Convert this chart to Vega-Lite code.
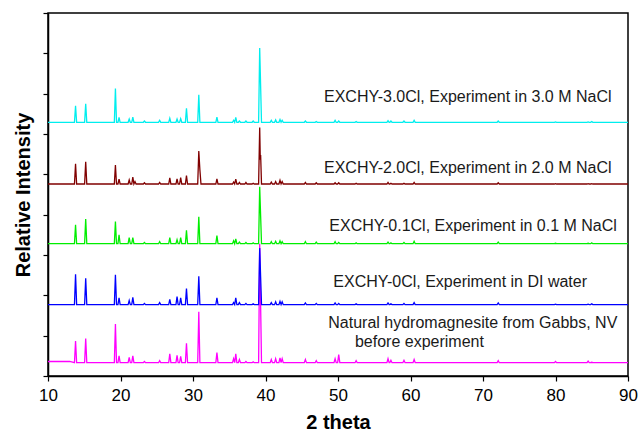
{
  "$schema": "https://vega.github.io/schema/vega-lite/v6.json",
  "width": 580,
  "height": 363,
  "autosize": "none",
  "padding": {"left": 48, "top": 13, "right": 11, "bottom": 57},
  "config": {
    "view": {"stroke": "#000000", "strokeWidth": 1.5},
    "font": "Liberation Sans",
    "axis": {
      "grid": false,
      "domainColor": "#000000",
      "domainWidth": 1.5,
      "tickColor": "#000000",
      "tickWidth": 1.2,
      "tickSize": 5,
      "labelColor": "#000000",
      "labelFont": "Liberation Sans",
      "labelFontSize": 17,
      "titleColor": "#000000",
      "titleFont": "Liberation Sans",
      "titleFontSize": 20,
      "titleFontWeight": "bold"
    }
  },
  "layer": [
    {
      "data": {
        "values": [
          {"x":10,"m":0.36,"b":1.77,"g":3.28,"r":4.76,"c":6.29},
          {"x":13.0,"m":0.36,"b":1.77,"g":3.28,"r":4.76,"c":6.29},
          {"x":13.65,"m":0.33,"b":1.77,"g":3.28,"r":4.76,"c":6.29},
          {"x":13.8,"m":0.87,"b":2.52,"g":3.75,"r":5.26,"c":6.70},
          {"x":13.95,"m":0.33,"b":1.77,"g":3.28,"r":4.76,"c":6.29},
          {"x":15.05,"m":0.33,"b":1.77,"g":3.28,"r":4.76,"c":6.29},
          {"x":15.2,"m":0.93,"b":2.42,"g":3.89,"r":5.31,"c":6.75},
          {"x":15.35,"m":0.33,"b":1.77,"g":3.28,"r":4.76,"c":6.29},
          {"x":19.15,"m":0.33,"b":1.77,"g":3.28,"r":4.76,"c":6.29},
          {"x":19.3,"m":1.29,"b":2.51,"g":3.83,"r":5.23,"c":7.13},
          {"x":19.45,"m":0.33,"b":1.77,"g":3.28,"r":4.76,"c":6.29},
          {"x":19.65,"m":0.33,"b":1.77,"g":3.28,"r":4.76,"c":6.29},
          {"x":19.8,"m":0.50,"b":1.94,"g":3.50,"r":4.88,"c":6.41},
          {"x":19.95,"m":0.33,"b":1.77,"g":3.28,"r":4.76,"c":6.29},
          {"x":21.05,"m":0.33,"b":1.77,"g":3.28,"r":4.76,"c":6.29},
          {"x":21.2,"m":0.46,"b":1.87,"g":3.43,"r":4.86,"c":6.37},
          {"x":21.35,"m":0.33,"b":1.77,"g":3.28,"r":4.76,"c":6.29},
          {"x":21.55,"m":0.33,"b":1.77,"g":3.28,"r":4.76,"c":6.29},
          {"x":21.7,"m":0.50,"b":1.95,"g":3.43,"r":4.93,"c":6.42},
          {"x":21.85,"m":0.33,"b":1.77,"g":3.28,"r":4.76,"c":6.29},
          {"x":22.0,"m":0.33,"b":1.77,"g":3.28,"r":4.82,"c":6.29},
          {"x":22.15,"m":0.33,"b":1.77,"g":3.28,"r":4.76,"c":6.29},
          {"x":23.15,"m":0.33,"b":1.77,"g":3.28,"r":4.76,"c":6.29},
          {"x":23.3,"m":0.36,"b":1.80,"g":3.31,"r":4.79,"c":6.32},
          {"x":23.45,"m":0.33,"b":1.77,"g":3.28,"r":4.76,"c":6.29},
          {"x":25.25,"m":0.33,"b":1.77,"g":3.28,"r":4.76,"c":6.29},
          {"x":25.4,"m":0.38,"b":1.82,"g":3.33,"r":4.80,"c":6.34},
          {"x":25.55,"m":0.33,"b":1.77,"g":3.28,"r":4.76,"c":6.29},
          {"x":26.65,"m":0.33,"b":1.77,"g":3.28,"r":4.76,"c":6.29},
          {"x":26.8,"m":0.55,"b":1.90,"g":3.43,"r":4.91,"c":6.39},
          {"x":26.95,"m":0.33,"b":1.77,"g":3.28,"r":4.76,"c":6.29},
          {"x":27.65,"m":0.33,"b":1.77,"g":3.28,"r":4.76,"c":6.29},
          {"x":27.8,"m":0.51,"b":1.97,"g":3.38,"r":4.89,"c":6.37},
          {"x":27.95,"m":0.33,"b":1.77,"g":3.28,"r":4.76,"c":6.29},
          {"x":28.15,"m":0.33,"b":1.77,"g":3.28,"r":4.76,"c":6.29},
          {"x":28.3,"m":0.49,"b":1.94,"g":3.43,"r":4.92,"c":6.38},
          {"x":28.45,"m":0.33,"b":1.77,"g":3.28,"r":4.76,"c":6.29},
          {"x":28.95,"m":0.33,"b":1.77,"g":3.28,"r":4.76,"c":6.29},
          {"x":29.1,"m":0.81,"b":2.17,"g":3.61,"r":4.97,"c":6.64},
          {"x":29.25,"m":0.33,"b":1.77,"g":3.28,"r":4.76,"c":6.29},
          {"x":30.65,"m":0.33,"b":1.77,"g":3.28,"r":4.76,"c":6.29},
          {"x":30.8,"m":1.59,"b":2.47,"g":3.95,"r":5.58,"c":6.97},
          {"x":30.95,"m":0.33,"b":1.77,"g":3.28,"r":5.11,"c":6.29},
          {"x":31.1,"m":0.33,"b":1.77,"g":3.28,"r":4.76,"c":6.29},
          {"x":33.15,"m":0.33,"b":1.77,"g":3.28,"r":4.76,"c":6.29},
          {"x":33.3,"m":0.58,"b":1.94,"g":3.48,"r":4.89,"c":6.42},
          {"x":33.45,"m":0.33,"b":1.77,"g":3.28,"r":4.76,"c":6.29},
          {"x":35.45,"m":0.33,"b":1.77,"g":3.28,"r":4.76,"c":6.29},
          {"x":35.6,"m":0.43,"b":1.82,"g":3.35,"r":4.81,"c":6.34},
          {"x":35.75,"m":0.33,"b":1.77,"g":3.28,"r":4.76,"c":6.29},
          {"x":35.9,"m":0.55,"b":1.94,"g":3.40,"r":4.88,"c":6.41},
          {"x":36.05,"m":0.33,"b":1.77,"g":3.28,"r":4.76,"c":6.29},
          {"x":36.25,"m":0.33,"b":1.77,"g":3.28,"r":4.76,"c":6.29},
          {"x":36.4,"m":0.41,"b":1.82,"g":3.32,"r":4.80,"c":6.32},
          {"x":36.55,"m":0.33,"b":1.77,"g":3.28,"r":4.76,"c":6.29},
          {"x":37.15,"m":0.33,"b":1.77,"g":3.28,"r":4.76,"c":6.29},
          {"x":37.3,"m":0.36,"b":1.80,"g":3.31,"r":4.80,"c":6.32},
          {"x":37.45,"m":0.33,"b":1.77,"g":3.28,"r":4.76,"c":6.29},
          {"x":38.15,"m":0.33,"b":1.77,"g":3.28,"r":4.76,"c":6.29},
          {"x":38.3,"m":0.35,"b":1.79,"g":3.30,"r":4.78,"c":6.32},
          {"x":38.45,"m":0.33,"b":1.77,"g":3.28,"r":4.76,"c":6.29},
          {"x":39.05,"m":0.33,"b":1.77,"g":3.28,"r":4.76,"c":6.29},
          {"x":39.2,"m":3.28,"b":3.17,"g":4.69,"r":6.16,"c":8.13},
          {"x":39.28,"m":2.33,"b":2.72,"g":4.24,"r":5.36,"c":7.54},
          {"x":39.33,"m":1.73,"b":2.44,"g":3.96,"r":5.48,"c":7.17},
          {"x":39.45,"m":0.33,"b":1.77,"g":3.28,"r":4.76,"c":6.29},
          {"x":40.65,"m":0.33,"b":1.77,"g":3.28,"r":4.76,"c":6.29},
          {"x":40.8,"m":0.41,"b":1.82,"g":3.33,"r":4.81,"c":6.34},
          {"x":40.95,"m":0.33,"b":1.77,"g":3.28,"r":4.76,"c":6.29},
          {"x":41.25,"m":0.33,"b":1.77,"g":3.28,"r":4.76,"c":6.29},
          {"x":41.4,"m":0.43,"b":1.84,"g":3.34,"r":4.82,"c":6.35},
          {"x":41.55,"m":0.33,"b":1.77,"g":3.28,"r":4.76,"c":6.29},
          {"x":41.85,"m":0.33,"b":1.77,"g":3.28,"r":4.76,"c":6.29},
          {"x":42.0,"m":0.45,"b":1.85,"g":3.35,"r":4.85,"c":6.36},
          {"x":42.15,"m":0.33,"b":1.77,"g":3.28,"r":4.76,"c":6.29},
          {"x":42.3,"m":0.43,"b":1.84,"g":3.33,"r":4.82,"c":6.34},
          {"x":42.45,"m":0.33,"b":1.77,"g":3.28,"r":4.76,"c":6.29},
          {"x":45.35,"m":0.33,"b":1.77,"g":3.28,"r":4.76,"c":6.29},
          {"x":45.5,"m":0.41,"b":1.81,"g":3.33,"r":4.80,"c":6.32},
          {"x":45.65,"m":0.33,"b":1.77,"g":3.28,"r":4.76,"c":6.29},
          {"x":46.85,"m":0.33,"b":1.77,"g":3.28,"r":4.76,"c":6.29},
          {"x":47.0,"m":0.38,"b":1.80,"g":3.32,"r":4.79,"c":6.31},
          {"x":47.15,"m":0.33,"b":1.77,"g":3.28,"r":4.76,"c":6.29},
          {"x":49.45,"m":0.33,"b":1.77,"g":3.28,"r":4.76,"c":6.29},
          {"x":49.6,"m":0.43,"b":1.81,"g":3.33,"r":4.79,"c":6.34},
          {"x":49.75,"m":0.33,"b":1.77,"g":3.28,"r":4.76,"c":6.29},
          {"x":49.95,"m":0.33,"b":1.77,"g":3.28,"r":4.76,"c":6.29},
          {"x":50.1,"m":0.53,"b":1.80,"g":3.31,"r":4.79,"c":6.32},
          {"x":50.25,"m":0.33,"b":1.77,"g":3.28,"r":4.76,"c":6.29},
          {"x":52.35,"m":0.33,"b":1.77,"g":3.28,"r":4.76,"c":6.29},
          {"x":52.5,"m":0.38,"b":1.79,"g":3.30,"r":4.78,"c":6.31},
          {"x":52.65,"m":0.33,"b":1.77,"g":3.28,"r":4.76,"c":6.29},
          {"x":56.75,"m":0.33,"b":1.77,"g":3.28,"r":4.76,"c":6.29},
          {"x":56.9,"m":0.43,"b":1.81,"g":3.32,"r":4.80,"c":6.33},
          {"x":57.05,"m":0.33,"b":1.77,"g":3.28,"r":4.76,"c":6.29},
          {"x":57.15,"m":0.33,"b":1.77,"g":3.28,"r":4.76,"c":6.29},
          {"x":57.3,"m":0.39,"b":1.79,"g":3.30,"r":4.78,"c":6.32},
          {"x":57.45,"m":0.33,"b":1.77,"g":3.28,"r":4.76,"c":6.29},
          {"x":58.95,"m":0.33,"b":1.77,"g":3.28,"r":4.76,"c":6.29},
          {"x":59.1,"m":0.39,"b":1.80,"g":3.31,"r":4.78,"c":6.32},
          {"x":59.25,"m":0.33,"b":1.77,"g":3.28,"r":4.76,"c":6.29},
          {"x":60.35,"m":0.33,"b":1.77,"g":3.28,"r":4.76,"c":6.29},
          {"x":60.5,"m":0.41,"b":1.82,"g":3.34,"r":4.80,"c":6.34},
          {"x":60.65,"m":0.33,"b":1.77,"g":3.28,"r":4.76,"c":6.29},
          {"x":71.95,"m":0.33,"b":1.77,"g":3.28,"r":4.76,"c":6.29},
          {"x":72.1,"m":0.38,"b":1.81,"g":3.32,"r":4.79,"c":6.32},
          {"x":72.25,"m":0.33,"b":1.77,"g":3.28,"r":4.76,"c":6.29},
          {"x":79.85,"m":0.33,"b":1.77,"g":3.28,"r":4.76,"c":6.29},
          {"x":80.0,"m":0.36,"b":1.78,"g":3.29,"r":4.77,"c":6.30},
          {"x":80.15,"m":0.33,"b":1.77,"g":3.28,"r":4.76,"c":6.29},
          {"x":84.35,"m":0.33,"b":1.77,"g":3.28,"r":4.76,"c":6.29},
          {"x":84.5,"m":0.37,"b":1.78,"g":3.29,"r":4.77,"c":6.30},
          {"x":84.65,"m":0.33,"b":1.77,"g":3.28,"r":4.76,"c":6.29},
          {"x":84.85,"m":0.33,"b":1.77,"g":3.28,"r":4.76,"c":6.29},
          {"x":85.0,"m":0.34,"b":1.79,"g":3.30,"r":4.77,"c":6.31},
          {"x":85.15,"m":0.33,"b":1.77,"g":3.28,"r":4.76,"c":6.29},
          {"x":90,"m":0.33,"b":1.77,"g":3.28,"r":4.76,"c":6.29}
        ]
      },
      "transform": [{"fold": ["m", "b", "g", "r", "c"], "as": ["series", "y"]}],
      "mark": {"type": "line", "strokeWidth": 1.3, "clip": true},
      "encoding": {
        "x": {
          "field": "x", "type": "quantitative",
          "scale": {"domain": [10, 90], "nice": false, "zero": false},
          "axis": {"title": "2 theta", "values": [10, 20, 30, 40, 50, 60, 70, 80, 90], "labelPadding": 6, "titlePadding": 9, "labelFlush": false}
        },
        "y": {
          "field": "y", "type": "quantitative",
          "scale": {"domain": [0, 9], "nice": false, "zero": false},
          "axis": {"title": "Relative Intensity", "values": [0, 1, 2, 3, 4, 5, 6, 7, 8, 9], "labels": false, "titlePadding": 9}
        },
        "color": {
          "field": "series", "type": "nominal",
          "scale": {"domain": ["m", "b", "g", "r", "c"], "range": ["#ff00ff", "#0000ff", "#00ee00", "#800000", "#00eeee"]},
          "legend": null
        },
        "detail": {"field": "series"}
      }
    },
    {
      "data": {
        "values": [
          {"x": 48.07, "y": 6.80, "label": "EXCHY-3.0Cl, Experiment in 3.0 M NaCl"},
          {"x": 48.07, "y": 5.04, "label": "EXCHY-2.0Cl, Experiment in 2.0 M NaCl"},
          {"x": 48.8, "y": 3.60, "label": "EXCHY-0.1Cl, Experiment in 0.1 M NaCl"},
          {"x": 49.35, "y": 2.21, "label": "EXCHY-0Cl, Experiment in DI water"},
          {"x": 48.66, "y": 1.18, "label": "Natural hydromagnesite from Gabbs, NV"},
          {"x": 52.34, "y": 0.73, "label": "before experiment"}
        ]
      },
      "mark": {"type": "text", "align": "left", "baseline": "alphabetic", "font": "Liberation Sans", "fontSize": 16, "color": "#1a1a1a"},
      "encoding": {
        "x": {"field": "x", "type": "quantitative"},
        "y": {"field": "y", "type": "quantitative"},
        "text": {"field": "label"}
      }
    }
  ]
}
